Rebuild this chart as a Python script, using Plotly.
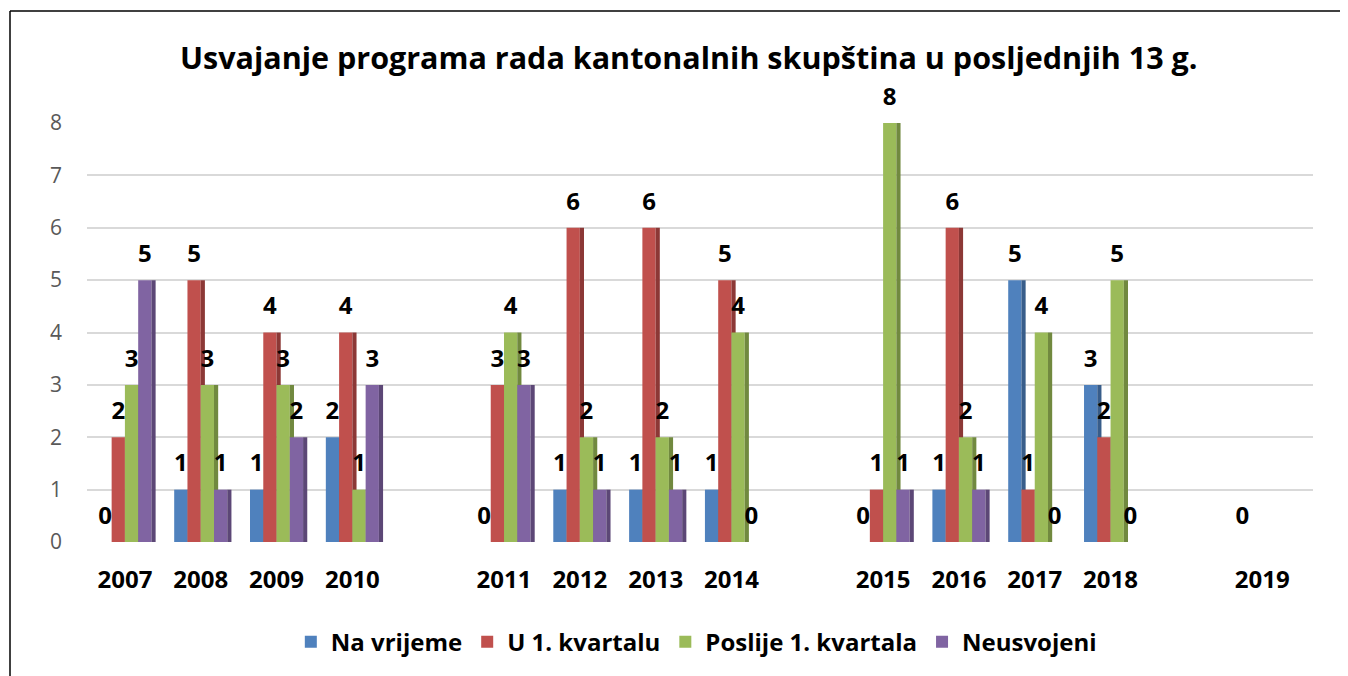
import plotly.graph_objects as go

categories = ["2007", "2008", "2009", "2010", " ", "2011", "2012", "2013", "2014", "  ",
              "2015", "2016", "2017", "2018", "   ", "2019"]
na_vrijeme = [0, 1, 1, 2, None, 0, 1, 1, 1, None, 0, 1, 5, 3, None, 0]
u_1_kvartalu = [2, 5, 4, 4, None, 3, 6, 6, 5, None, 1, 6, 1, 2, None, None]
poslije_1_kvartala = [3, 3, 3, 1, None, 4, 2, 2, 4, None, 8, 2, 4, 5, None, None]
neusvojeni = [5, 1, 2, 3, None, 3, 1, 1, 0, None, 1, 1, 0, 0, None, None]
y_ticks = [0, 1, 2, 3, 4, 5, 6, 7, 8]

series = [
    ("Na vrijeme", na_vrijeme, "#4F81BD", "#385D8A"),
    ("U 1. kvartalu", u_1_kvartalu, "#C0504D", "#8C3836"),
    ("Poslije 1. kvartala", poslije_1_kvartala, "#9BBB59", "#71893F"),
    ("Neusvojeni", neusvojeni, "#8064A2", "#5C4776"),
]

FONT = "Open Sans"
GAP = 0.3
BW = (1 - GAP) / len(series)
DEPTH = 0.055

fig = go.Figure()
for i, (name, vals, color, dark) in enumerate(series):
    off = -(1 - GAP) / 2 + i * BW
    fig.add_trace(go.Bar(
        name=name, x=categories, y=vals, offsetgroup=name,
        marker=dict(color=color, line=dict(width=0)), legendgroup=name,
    ))
    fig.add_trace(go.Bar(
        name=name, x=categories, y=vals, offsetgroup=name,
        width=DEPTH, offset=off + BW,
        marker=dict(color=dark, line=dict(width=0)), legendgroup=name,
        showlegend=False, hoverinfo="skip",
    ))
for name, vals, color, dark in series:
    fig.add_trace(go.Scatter(
        name=name, x=categories, y=vals, offsetgroup=name,
        mode="markers+text", showlegend=False, hoverinfo="skip",
        marker=dict(size=18, color="rgba(0,0,0,0)"),
        text=[("" if v is None else str(v)) for v in vals],
        textposition="top center",
        textfont=dict(family=FONT, size=24, color="#000000", weight="bold"),
        cliponaxis=False,
    ))

W, H = 1348, 676
ml, mr, mt, mb = 79, 43, 115, 142
pw = W - ml - mr
ph = H - mt - mb

fig.update_layout(
    width=W, height=H,
    paper_bgcolor="white", plot_bgcolor="white",
    margin=dict(l=ml, r=mr, t=mt, b=mb),
    barmode="group", bargap=GAP, bargroupgap=0,
    scattermode="group", scattergap=GAP,
    title=dict(text="<b>Usvajanje programa rada kantonalnih skupština u posljednjih 13 g.</b>",
               x=0.505, xanchor="center", y=0.926, yanchor="middle",
               font=dict(family=FONT, size=30.5, color="#000000")),
    showlegend=True,
    legend=dict(orientation="h", x=0.497, xanchor="center", y=-0.239, yanchor="middle",
                font=dict(family=FONT, size=24, color="#000000", weight="bold"),
                itemwidth=30, traceorder="normal"),
    xaxis=dict(type="category", categoryorder="array", categoryarray=categories,
               range=[-0.5, 15.67], showgrid=False, zeroline=False, showline=False,
               ticks="", ticklabelstandoff=21,
               tickfont=dict(family=FONT, size=24, color="#000000", weight="bold")),
    yaxis=dict(range=[0, 8], tickvals=y_ticks, showgrid=True, gridcolor="#d9d9d9",
               gridwidth=2, zeroline=False, showline=False, ticks="",
               ticklabelstandoff=24,
               tickfont=dict(family=FONT, size=21, color="#595959")),
    shapes=[
        dict(type="line", xref="paper", yref="paper",
             x0=(2 - ml) / pw, x1=(W - ml) / pw, y0=(H - 3 - mb) / ph, y1=(H - 3 - mb) / ph,
             line=dict(color="#000000", width=1.5)),
        dict(type="line", xref="paper", yref="paper",
             x0=(2 - ml) / pw, x1=(2 - ml) / pw, y0=(0 - mb) / ph, y1=(H - 3 - mb) / ph,
             line=dict(color="#000000", width=1.5)),
    ],
)

fig.write_html("out.html")
